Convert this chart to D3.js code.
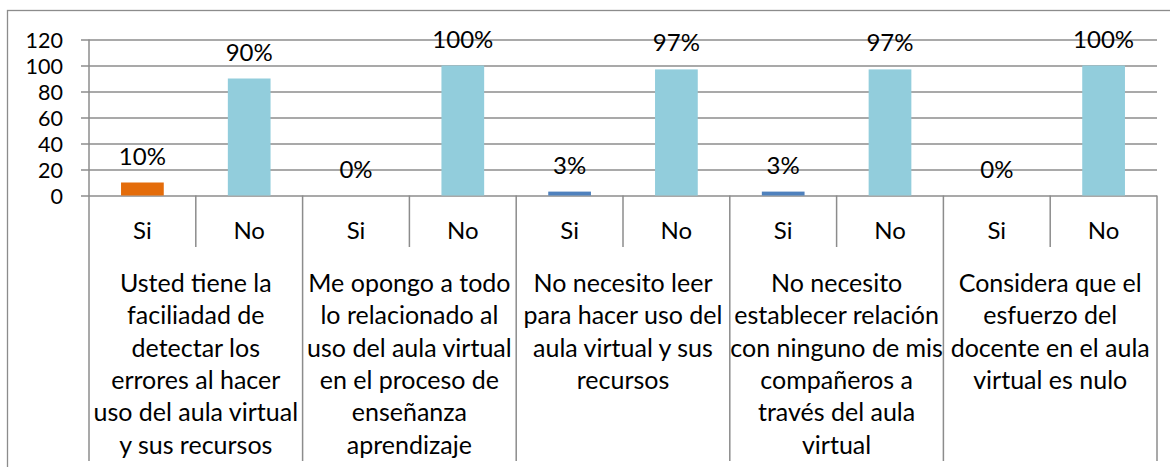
<!DOCTYPE html>
<html>
<head>
<meta charset="utf-8">
<script src="https://cdn.jsdelivr.net/npm/d3@7/dist/d3.min.js"></script>
<style>
  html, body { margin: 0; padding: 0; background: #fff; }
  svg { display: block; }
  text { font-family: Lato, "Liberation Sans", sans-serif; fill: #000; }
</style>
</head>
<body>
<svg id="chart" width="1170" height="467"></svg>
<script>
// ---- data ----
const questions = [
  "Usted tiene la\nfaciliadad de\ndetectar los\nerrores al hacer\nuso del aula virtual\ny sus recursos",
  "Me opongo a todo\nlo relacionado al\nuso del aula virtual\nen el proceso de\nenseñanza\naprendizaje",
  "No necesito leer\npara hacer uso del\naula virtual y sus\nrecursos",
  "No necesito\nestablecer relación\ncon ninguno de mis\ncompañeros a\ntravés del aula\nvirtual",
  "Considera que el\nesfuerzo del\ndocente en el aula\nvirtual es nulo"
];
const answers = ["Si", "No"];
const siValues = [10, 0, 3, 3, 0];
const noValues = [90, 100, 97, 97, 100];
const yTicks = [0, 20, 40, 60, 80, 100, 120];

(function () {
// ---- layout ----
const svg = d3.select("#chart");
const pLeft = 89, pRight = 1157, pTop = 39.5, pBase = 195.5, pBottom = 461;
const gridColor = "#8c8c8c";

const items = [];
questions.forEach((q, i) => {
  answers.forEach(a => {
    const v = a === "Si" ? siValues[i] : noValues[i];
    const color = a === "No" ? "#92CDDC" : (i === 0 ? "#E46C0A" : "#4F81BD");
    items.push({ q: i, ans: a, v: v, key: i + "-" + a, color: color });
  });
});

const x = d3.scaleBand().domain(items.map(d => d.key)).range([pLeft, pRight]).padding(0);
const y = d3.scaleLinear().domain([0, 120]).range([pBase, pTop]);
const bw = x.bandwidth();

// outer border
svg.append("rect").attr("x", 7.5).attr("y", 10.5).attr("width", 1200).attr("height", 500)
  .attr("fill", "none").attr("stroke", gridColor).attr("stroke-width", 1.3);

// gridlines + ticks
const yAxis = d3.axisLeft(y).tickValues(yTicks).tickSize(-(pRight - pLeft)).tickSizeOuter(0).tickPadding(0);
const gy = svg.append("g").attr("transform", `translate(${pLeft},0)`).call(yAxis);
gy.select(".domain").remove();
gy.selectAll(".tick line").attr("x1", -8).attr("stroke", gridColor).attr("stroke-width", 1.5);
gy.selectAll(".tick text").attr("x", -26).attr("dy", "0.36em").attr("fill", "#000")
  .style("font-size", "21.5px").style("font-family", "Lato, 'Liberation Sans', sans-serif");

// y axis line
svg.append("line").attr("x1", pLeft).attr("x2", pLeft).attr("y1", pTop).attr("y2", pBottom)
  .attr("stroke", gridColor).attr("stroke-width", 1.5);

// bars
svg.append("g").selectAll("rect").data(items).join("rect")
  .attr("x", d => x(d.key) + bw * 0.3)
  .attr("width", bw * 0.4)
  .attr("y", d => y(d.v))
  .attr("height", d => y(0) - y(d.v))
  .attr("fill", d => d.color);

// value labels
svg.append("g").selectAll("text").data(items).join("text")
  .attr("x", d => x(d.key) + bw / 2)
  .attr("y", d => y(d.v) - 18)
  .attr("text-anchor", "middle")
  .style("font-size", "24px")
  .text(d => d.v + "%");

// separators
const bounds = d3.range(1, items.length + 1);
svg.append("g").selectAll("line").data(bounds).join("line")
  .attr("x1", i => (i < items.length ? x(items[i].key) : pRight))
  .attr("x2", i => (i < items.length ? x(items[i].key) : pRight))
  .attr("y1", pBase)
  .attr("y2", i => (i % 2 === 0 ? pBottom : 247))
  .attr("stroke", gridColor).attr("stroke-width", 1.5);

// Si / No labels
svg.append("g").selectAll("text").data(items).join("text")
  .attr("x", d => x(d.key) + bw / 2)
  .attr("y", 239)
  .attr("text-anchor", "middle")
  .style("font-size", "24px")
  .text(d => d.ans);

// question labels
const qg = svg.append("g").selectAll("text").data(questions).join("text")
  .attr("text-anchor", "middle")
  .style("font-size", "25px");
qg.each(function (q, i) {
  const cx = x(i + "-Si") + bw;
  d3.select(this).selectAll("tspan").data(q.split("\n")).join("tspan")
    .attr("x", cx)
    .attr("y", (d, j) => 292 + j * 32.3)
    .text(d => d);
});
})();
</script>
</body>
</html>
